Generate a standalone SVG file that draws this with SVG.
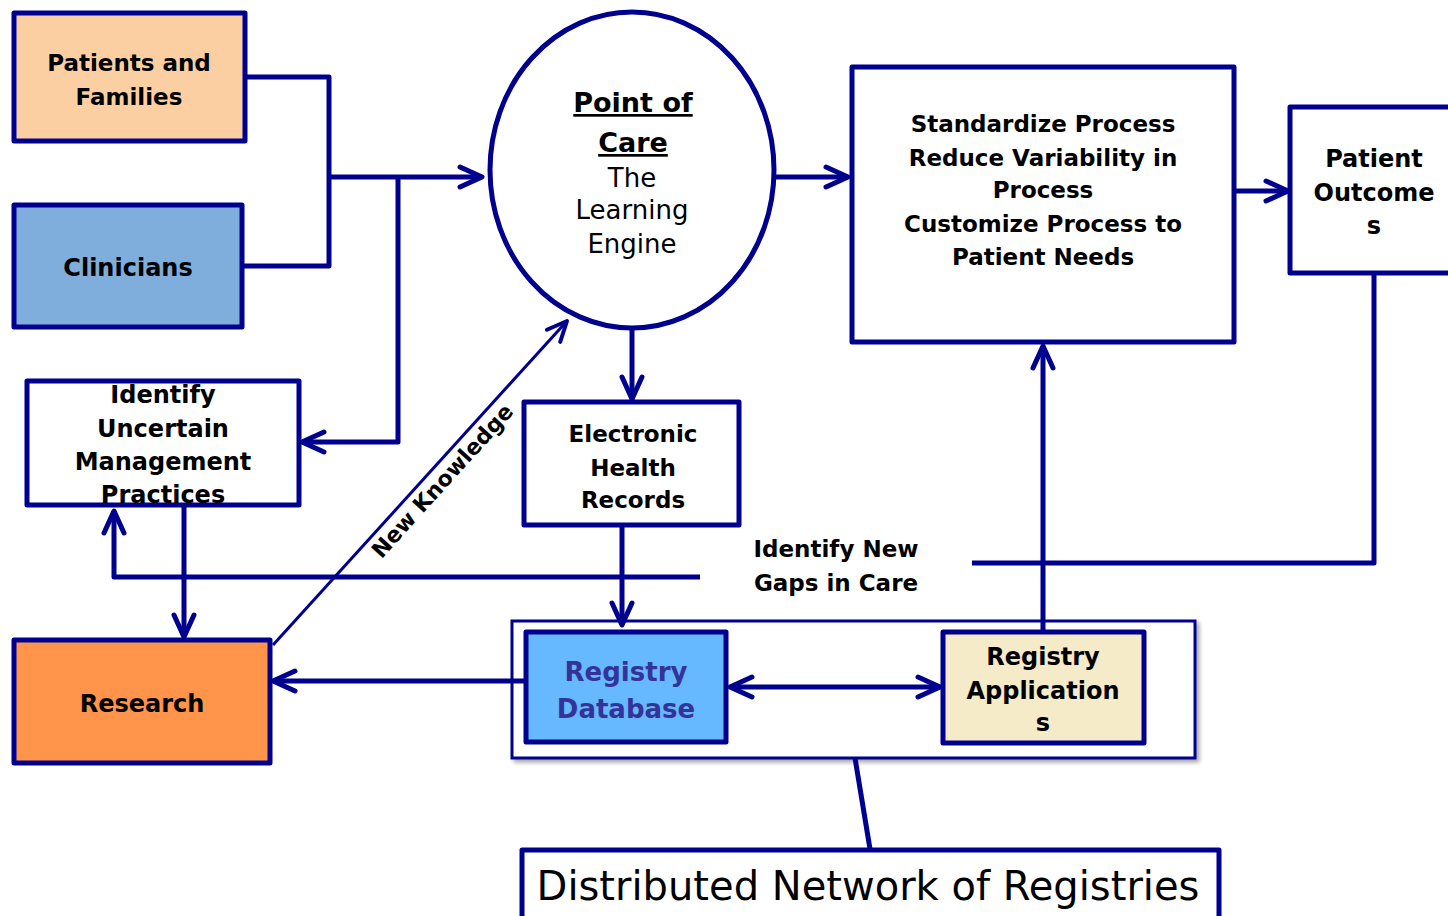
<svg xmlns="http://www.w3.org/2000/svg" width="1448" height="916" viewBox="0 0 1448 916">
<style>
.box{stroke:#00008F;stroke-width:5;stroke-linejoin:round}
.ln{fill:none;stroke:#00008F;stroke-width:5;stroke-linejoin:round}
.t{font-family:"DejaVu Sans","Liberation Sans",sans-serif;font-weight:bold;font-size:23px;fill:#000;text-anchor:middle}
.n{font-family:"DejaVu Sans","Liberation Sans",sans-serif;font-size:26px;fill:#000;text-anchor:middle}
</style>
<defs>
<marker id="ah" viewBox="0 0 30 26" refX="27" refY="13" markerWidth="30" markerHeight="26" markerUnits="userSpaceOnUse" orient="auto-start-reverse">
<path d="M5,3 L27,13 L5,23" fill="none" stroke="#00008F" stroke-width="5" stroke-linecap="round" stroke-linejoin="round"/>
</marker>
<marker id="ahs" viewBox="0 0 30 26" refX="27" refY="13" markerWidth="30" markerHeight="26" markerUnits="userSpaceOnUse" orient="auto">
<path d="M7,4 L27,13 L7,22" fill="none" stroke="#00008F" stroke-width="4" stroke-linecap="round" stroke-linejoin="round"/>
</marker>
<filter id="sh" x="-5%" y="-10%" width="115%" height="130%">
<feGaussianBlur in="SourceAlpha" stdDeviation="2"/>
<feOffset dx="3" dy="3" result="b"/>
<feComponentTransfer><feFuncA type="linear" slope="0.35"/></feComponentTransfer>
<feMerge><feMergeNode/><feMergeNode in="SourceGraphic"/></feMerge>
</filter>
</defs>
<rect width="1448" height="916" fill="#fff"/>

<g id="registry-network">
<rect x="512" y="621" width="683" height="137" fill="#fff" stroke="#00008F" stroke-width="3" filter="url(#sh)"/>
</g>

<g id="connectors">
<polyline class="ln" points="246,77 329,77 329,266 243,266"/>
<line class="ln" x1="329" y1="177" x2="482" y2="177" marker-end="url(#ah)"/>
<polyline class="ln" points="398,177 398,442 302,442" marker-end="url(#ah)"/>
<line class="ln" x1="776" y1="177" x2="848" y2="177" marker-end="url(#ah)"/>
<line class="ln" x1="1236" y1="191" x2="1288" y2="191" marker-end="url(#ah)"/>
<line class="ln" x1="632" y1="330" x2="632" y2="399" marker-end="url(#ah)"/>
<line class="ln" x1="622" y1="527" x2="622" y2="625" marker-end="url(#ah)"/>
<line class="ln" x1="184" y1="507" x2="184" y2="637" marker-end="url(#ah)"/>
<polyline class="ln" points="700,577 114,577 114,511" marker-end="url(#ah)"/>
<polyline class="ln" points="1374,274 1374,563 972,563"/>
<line class="ln" x1="1043" y1="632" x2="1043" y2="346" marker-end="url(#ah)"/>
<line class="ln" x1="526" y1="681" x2="273" y2="681" marker-end="url(#ah)"/>
<line class="ln" x1="730" y1="687" x2="940" y2="687" marker-start="url(#ah)" marker-end="url(#ah)"/>
<line x1="273" y1="645" x2="567" y2="321" stroke="#00008F" stroke-width="3" marker-end="url(#ahs)"/>
<line class="ln" x1="855" y1="758" x2="870" y2="849"/>
<text class="t" style="font-size:22px" transform="translate(448,486) rotate(-47.8)">New Knowledge</text>
<text class="t" x="836" y="557">Identify New</text>
<text class="t" x="836" y="591">Gaps in Care</text>
</g>

<g id="patients">
<rect class="box" x="14" y="13" width="231" height="128" fill="#FCCFA2"/>
<text class="t" x="129" y="71">Patients and</text>
<text class="t" x="129" y="105">Families</text>
</g>

<g id="clinicians">
<rect class="box" x="14" y="205" width="228" height="122" fill="#7FADDC"/>
<text class="t" style="font-size:24px" x="128" y="276">Clinicians</text>
</g>

<g id="point-of-care">
<ellipse class="box" cx="632" cy="170" rx="142" ry="158" fill="#fff"/>
<text class="t" style="font-size:27px;text-decoration:underline" x="633" y="112">Point of</text>
<text class="t" style="font-size:27px;text-decoration:underline" x="633" y="152">Care</text>
<text class="n" x="632" y="187">The</text>
<text class="n" x="632" y="219">Learning</text>
<text class="n" x="632" y="253">Engine</text>
</g>

<g id="standardize">
<rect class="box" x="852" y="67" width="382" height="275" fill="#fff"/>
<text class="t" x="1043" y="132">Standardize Process</text>
<text class="t" x="1043" y="166">Reduce Variability in</text>
<text class="t" x="1043" y="198">Process</text>
<text class="t" x="1043" y="232">Customize Process to</text>
<text class="t" x="1043" y="265">Patient Needs</text>
</g>

<g id="patient-outcomes">
<rect class="box" x="1290" y="107" width="170" height="166" fill="#fff"/>
<text class="t" style="font-size:24px" x="1374" y="167">Patient</text>
<text class="t" style="font-size:24px" x="1374" y="201">Outcome</text>
<text class="t" style="font-size:24px" x="1374" y="234">s</text>
</g>

<g id="identify">
<rect class="box" x="27" y="381" width="272" height="124" fill="#fff"/>
<text class="t" style="font-size:24px" x="163" y="403">Identify</text>
<text class="t" style="font-size:24px" x="163" y="437">Uncertain</text>
<text class="t" style="font-size:24px" x="163" y="470">Management</text>
<text class="t" style="font-size:24px" x="163" y="503">Practices</text>
</g>

<g id="ehr">
<rect class="box" x="524" y="402" width="215" height="123" fill="#fff"/>
<text class="t" x="633" y="442">Electronic</text>
<text class="t" x="633" y="476">Health</text>
<text class="t" x="633" y="508">Records</text>
</g>

<g id="research">
<rect class="box" x="14" y="640" width="256" height="123" fill="#FF944A"/>
<text class="t" style="font-size:24px" x="142" y="712">Research</text>
</g>

<g id="registry-database">
<rect class="box" x="526" y="632" width="200" height="110" fill="#66B8FF"/>
<text class="t" style="font-size:26px;fill:#33339A" x="626" y="681">Registry</text>
<text class="t" style="font-size:26px;fill:#33339A" x="626" y="718">Database</text>
</g>

<g id="registry-applications">
<rect class="box" x="943" y="632" width="201" height="111" fill="#F5EBC8"/>
<text class="t" style="font-size:24px" x="1043" y="665">Registry</text>
<text class="t" style="font-size:24px" x="1043" y="699">Application</text>
<text class="t" style="font-size:24px" x="1043" y="731">s</text>
</g>

<g id="distributed">
<rect class="box" x="522" y="850" width="697" height="80" fill="#fff"/>
<text class="n" style="font-size:40px" x="868" y="900">Distributed Network of Registries</text>
</g>
</svg>
